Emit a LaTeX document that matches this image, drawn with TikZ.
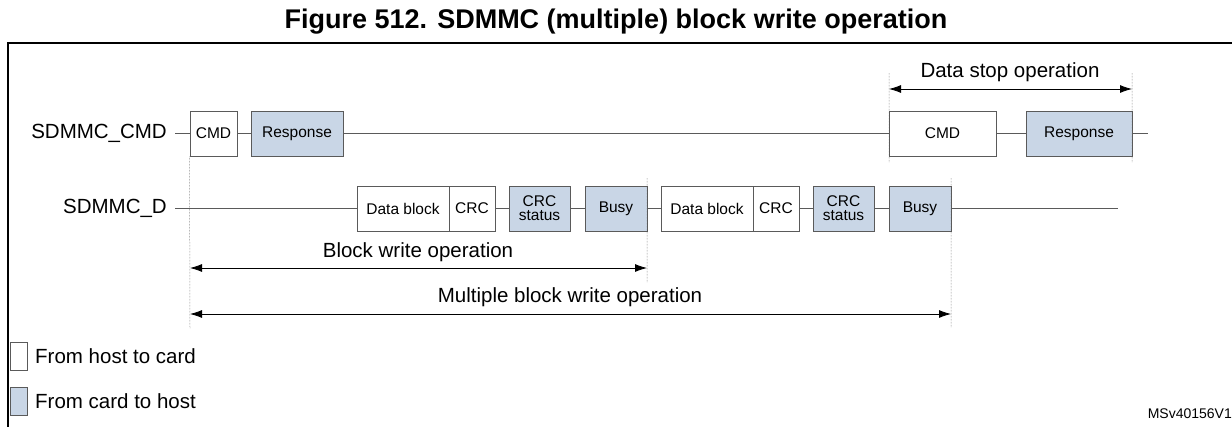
\documentclass[tikz,border=0pt]{standalone}
\usepackage{fontspec}
\setmainfont{Liberation Sans}
\usetikzlibrary{arrows.meta,positioning}

\definecolor{cardblue}{HTML}{C9D6E6}
\definecolor{linegray}{HTML}{5A5A5A}

\tikzset{
  host/.style={draw=linegray, line width=1pt, fill=white, inner sep=0pt,
    minimum height=45pt, font=\fontsize{15.5}{16}\selectfont, align=center},
  card/.style={host, fill=cardblue},
  sig/.style={linegray, line width=1pt},
  dim/.style={black, line width=0.8pt, {Latex[length=12pt,width=8pt]}-{Latex[length=12pt,width=8pt]}},
  guide/.style={linegray, line width=0.5pt, densely dotted},
  lbl/.style={font=\fontsize{20.5}{22}\selectfont, inner sep=0pt}
}

\begin{document}
\begin{tikzpicture}[x=1pt,y=-1pt]
\useasboundingbox (0,0) rectangle (1232,426);

% title and frame
\node[font=\bfseries\fontsize{27}{28}\selectfont] (title) at (616,22) {Figure 512. SDMMC (multiple) block write operation};
\draw[line width=1.5pt] (8,440) -- (8,43) -- (1240,43);

% signal names
\node[lbl, anchor=east] (lcmd) at (167,133.5) {SDMMC\_CMD};
\node[lbl, anchor=east] (ld) at (167,208.5) {SDMMC\_D};

% command line boxes
\node[host, minimum width=47pt] (cmdA) at (213.5,133.5) {CMD};
\node[card, minimum width=92pt] (respA) at (297,133.5) {Response};
\node[host, minimum width=107pt] (cmdB) at (942.5,133.5) {CMD};
\node[card, minimum width=106pt] (respB) at (1079,133.5) {Response};
\coordinate (cmdend) at (1148,133.5);

% data line boxes
\node[host, minimum width=92pt] (db1) at (403,208.5) {Data block};
\node[host, minimum width=46pt] (crc1) at (472,208.5) {CRC};
\node[card, minimum width=61pt] (st1) at (539.5,208.5) {CRC\\[-2pt]status};
\node[card, minimum width=62pt] (busy1) at (616,208.5) {Busy};
\node[host, minimum width=92pt] (db2) at (707,208.5) {Data block};
\node[host, minimum width=46pt] (crc2) at (776,208.5) {CRC};
\node[card, minimum width=61pt] (st2) at (843.5,208.5) {CRC\\[-2pt]status};
\node[card, minimum width=62pt] (busy2) at (920,208.5) {Busy};
\coordinate (dend) at (1118,208.5);

% signal lines
\draw[sig] ([xshift=8pt]lcmd.east) -- (cmdA.west) (cmdA.east) -- (respA.west)
  (respA.east) -- (cmdB.west) (cmdB.east) -- (respB.west) (respB.east) -- (cmdend);
\draw[sig] ([xshift=8pt]ld.east) -- (db1.west) (crc1.east) -- (st1.west)
  (st1.east) -- (busy1.west) (busy1.east) -- (db2.west) (crc2.east) -- (st2.west)
  (st2.east) -- (busy2.west) (busy2.east) -- (dend);

% guide lines
\coordinate (m0) at (cmdA.south west);
\coordinate (m0b) at (190,328);
\coordinate (m1a) at (647,178);
\coordinate (m1b) at (647,283);
\coordinate (m2a) at (951,178);
\coordinate (m2b) at (951,328);
\coordinate (s1a) at (889,73);
\coordinate (s1b) at (889,163);
\coordinate (s2a) at (1132,73);
\coordinate (s2b) at (1132,163);
\draw[guide] (m0) -- (m0b) (m1a) -- (m1b) (m2a) -- (m2b) (s1a) -- (s1b) (s2a) -- (s2b);

% dimension arrows
\coordinate (bw0) at (190,268);
\coordinate (bw1) at (647,268);
\coordinate (mw0) at (190,314);
\coordinate (mw1) at (951,314);
\coordinate (ds0) at (889,89);
\coordinate (ds1) at (1132,89);
\draw[dim] (bw0) -- (bw1);
\draw[dim] (mw0) -- (mw1);
\draw[dim] (ds0) -- (ds1);
\node[lbl] (lbw) at (418,252) {Block write operation};
\node[lbl] (lmw) at (570,297) {Multiple block write operation};
\node[lbl] (lds) at (1010,72) {Data stop operation};

% legend
\node[host, minimum width=17pt, minimum height=28pt] (khost) at (18.5,356) {};
\node[card, minimum width=17pt, minimum height=28pt] (kcard) at (18.5,401) {};
\node[lbl, anchor=west] (lhost) at (35,356) {From host to card};
\node[lbl, anchor=west] (lcard) at (35,401) {From card to host};
\node[font=\fontsize{14}{15}\selectfont, anchor=east, inner sep=0pt] (ref) at (1232,414) {MSv40156V1};

\end{tikzpicture}
\end{document}
